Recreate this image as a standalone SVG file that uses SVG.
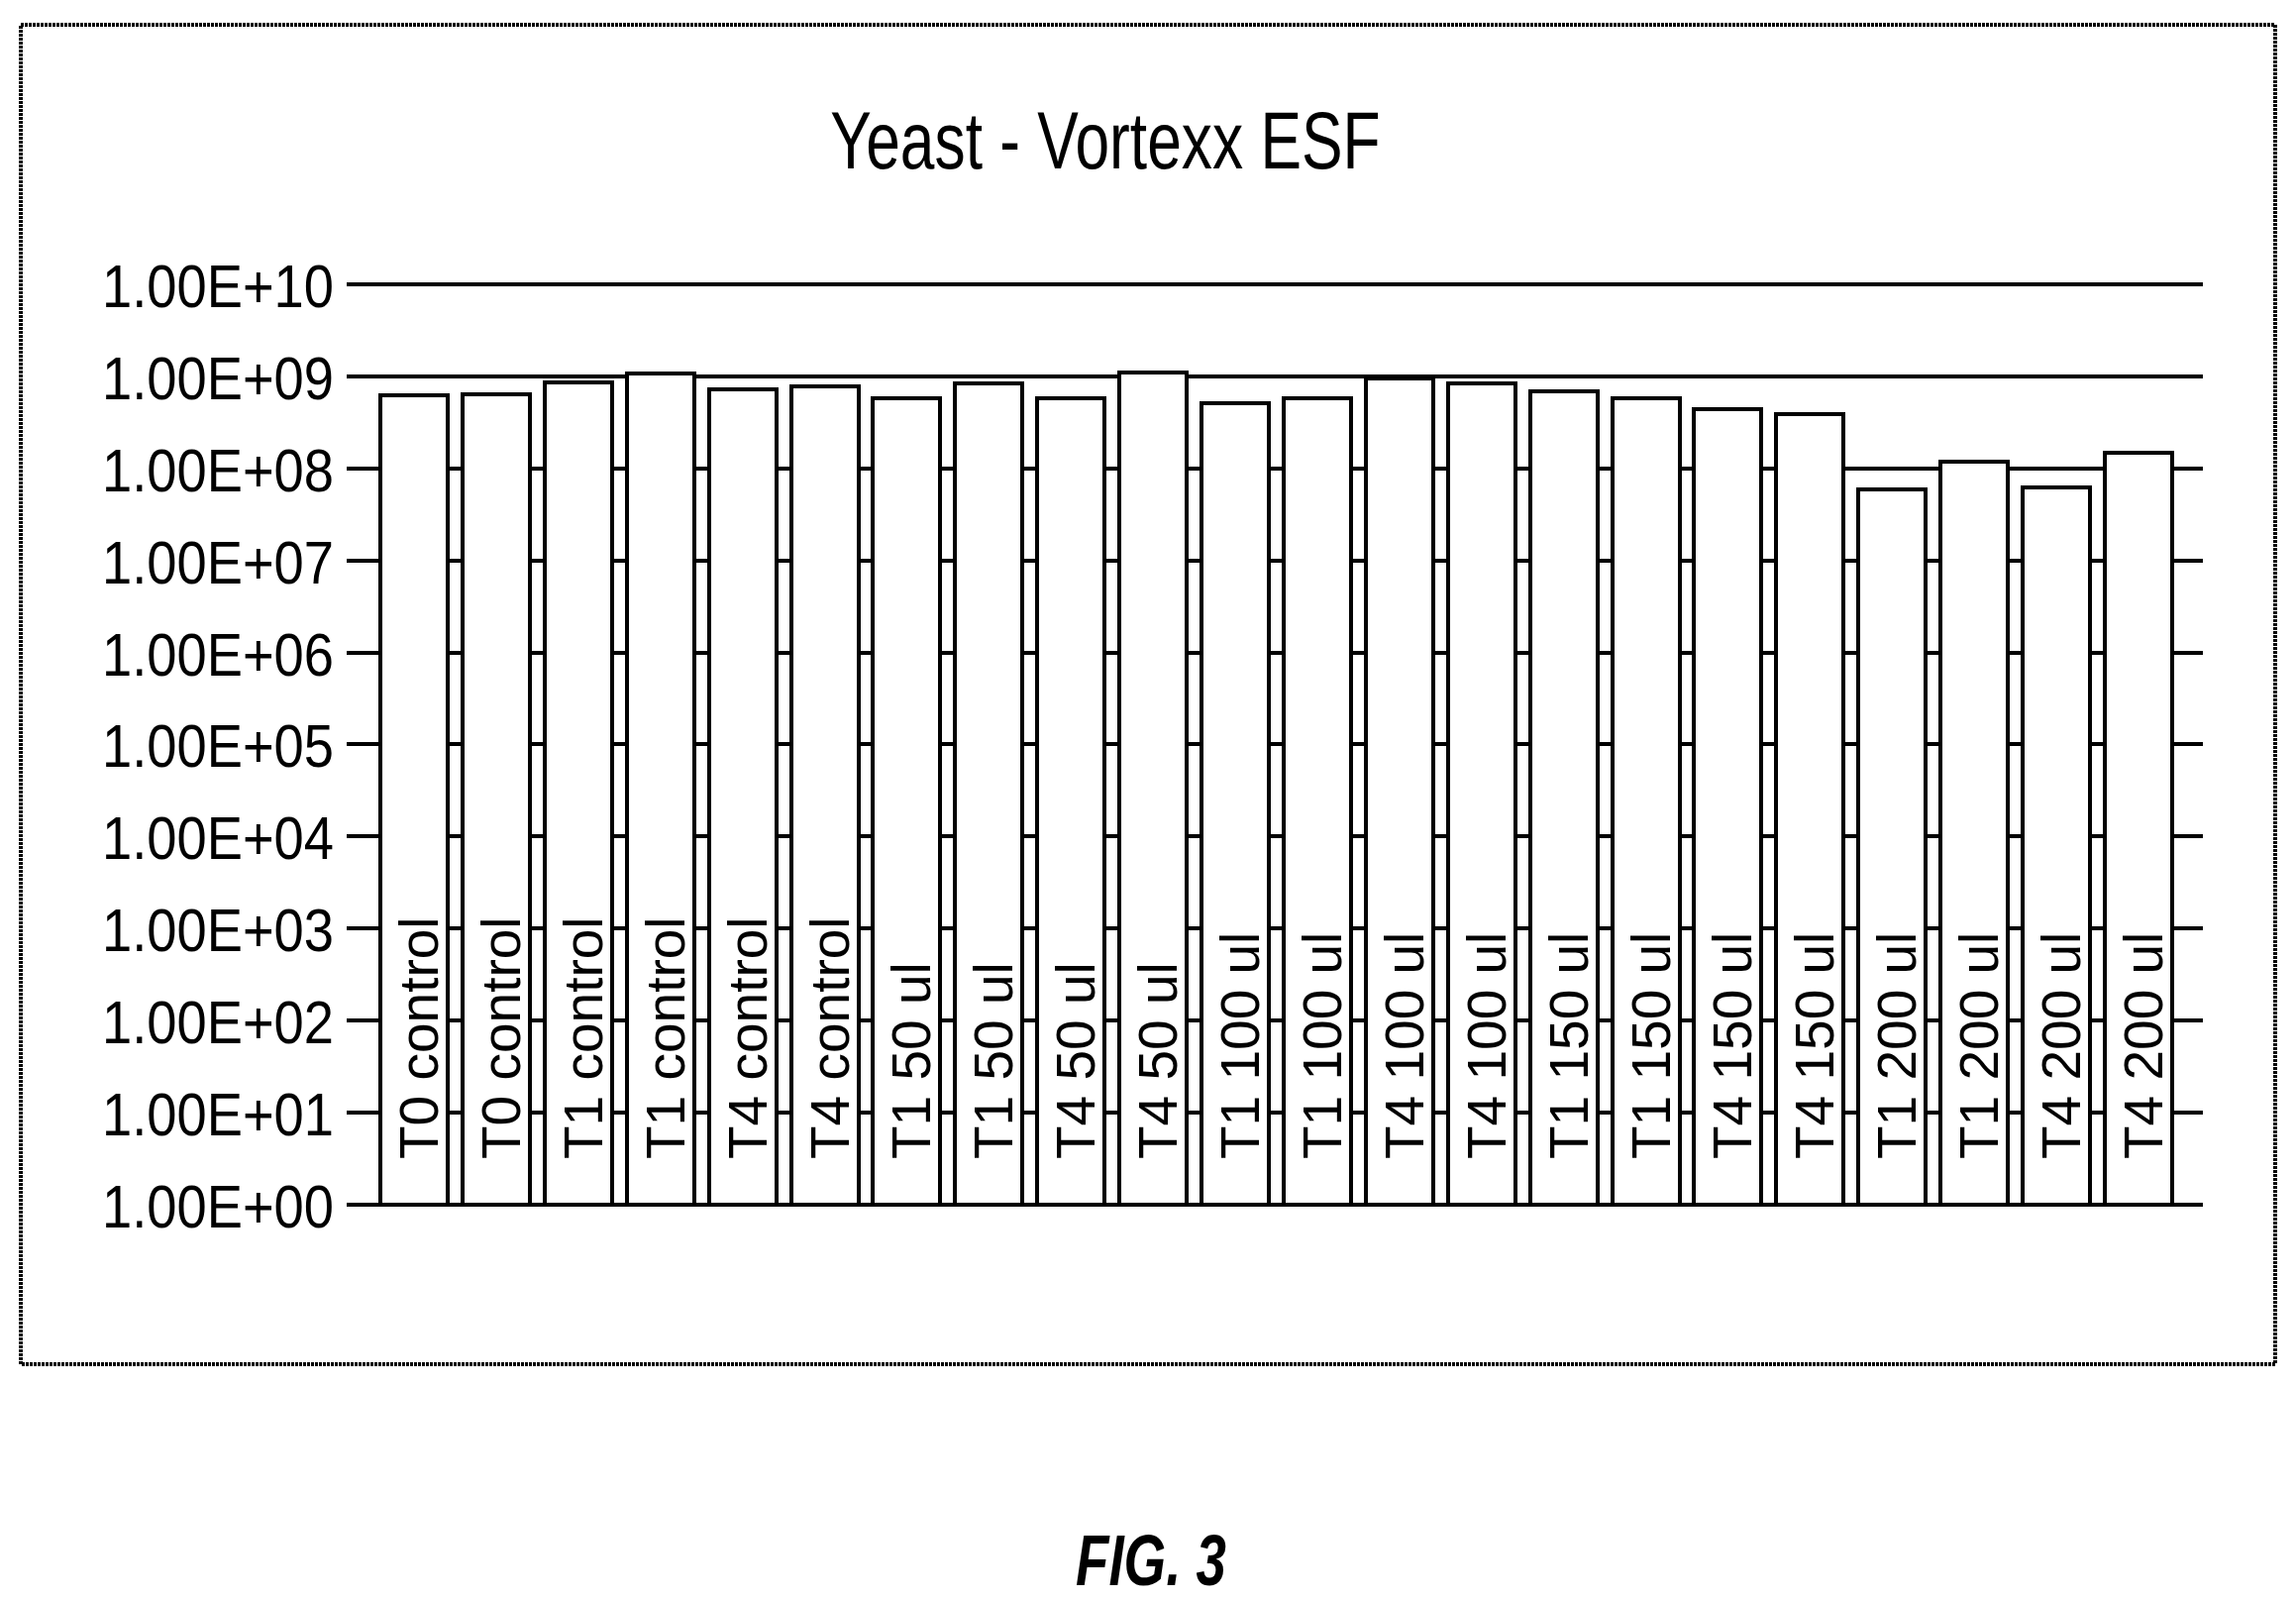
<svg xmlns="http://www.w3.org/2000/svg" width="2318" height="1615" viewBox="0 0 2318 1615">
<style>
.t{font-family:"Liberation Sans",Arial,sans-serif;fill:#000}
.g{stroke:#000;stroke-width:4;fill:none}
.b{stroke:#000;stroke-width:4;fill:#fff}
.yl{font-size:61px;text-anchor:end}
.bl{font-size:55px}
</style>
<rect width="2318" height="1615" fill="#fff"/>
<rect x="21" y="25" width="2276" height="1352" class="g" stroke-dasharray="3 1"/>
<text class="t" font-size="82" text-anchor="middle" transform="translate(1116,170) scale(0.76,1)">Yeast - Vortexx ESF</text>
<g id="grid">
<line x1="350" x2="2224" y1="287" y2="287" class="g"/>
<line x1="350" x2="2224" y1="380" y2="380" class="g"/>
<line x1="350" x2="2224" y1="473" y2="473" class="g"/>
<line x1="350" x2="2224" y1="566" y2="566" class="g"/>
<line x1="350" x2="2224" y1="659" y2="659" class="g"/>
<line x1="350" x2="2224" y1="751" y2="751" class="g"/>
<line x1="350" x2="2224" y1="844" y2="844" class="g"/>
<line x1="350" x2="2224" y1="937" y2="937" class="g"/>
<line x1="350" x2="2224" y1="1030" y2="1030" class="g"/>
<line x1="350" x2="2224" y1="1123" y2="1123" class="g"/>
<line x1="350" x2="2224" y1="1216" y2="1216" class="g"/>
</g>
<g id="yaxis" class="t yl">
<text transform="translate(337,310) scale(0.89,1)">1.00E+10</text>
<text transform="translate(337,403) scale(0.89,1)">1.00E+09</text>
<text transform="translate(337,496) scale(0.89,1)">1.00E+08</text>
<text transform="translate(337,589) scale(0.89,1)">1.00E+07</text>
<text transform="translate(337,682) scale(0.89,1)">1.00E+06</text>
<text transform="translate(337,774) scale(0.89,1)">1.00E+05</text>
<text transform="translate(337,867) scale(0.89,1)">1.00E+04</text>
<text transform="translate(337,960) scale(0.89,1)">1.00E+03</text>
<text transform="translate(337,1053) scale(0.89,1)">1.00E+02</text>
<text transform="translate(337,1146) scale(0.89,1)">1.00E+01</text>
<text transform="translate(337,1239) scale(0.89,1)">1.00E+00</text>
</g>
<g id="bars">
<rect class="b" x="384" y="399" width="68" height="817"/>
<rect class="b" x="467" y="398" width="68" height="818"/>
<rect class="b" x="550" y="386" width="68" height="830"/>
<rect class="b" x="633" y="377" width="68" height="839"/>
<rect class="b" x="716" y="393" width="68" height="823"/>
<rect class="b" x="799" y="390" width="68" height="826"/>
<rect class="b" x="881" y="402" width="68" height="814"/>
<rect class="b" x="964" y="387" width="68" height="829"/>
<rect class="b" x="1047" y="402" width="68" height="814"/>
<rect class="b" x="1130" y="376" width="68" height="840"/>
<rect class="b" x="1213" y="407" width="68" height="809"/>
<rect class="b" x="1296" y="402" width="68" height="814"/>
<rect class="b" x="1379" y="382" width="68" height="834"/>
<rect class="b" x="1462" y="387" width="68" height="829"/>
<rect class="b" x="1545" y="395" width="68" height="821"/>
<rect class="b" x="1628" y="402" width="68" height="814"/>
<rect class="b" x="1710" y="413" width="68" height="803"/>
<rect class="b" x="1793" y="418" width="68" height="798"/>
<rect class="b" x="1876" y="494" width="68" height="722"/>
<rect class="b" x="1959" y="466" width="68" height="750"/>
<rect class="b" x="2042" y="492" width="68" height="724"/>
<rect class="b" x="2125" y="457" width="68" height="759"/>
</g>
<g id="labels" class="t bl">
<text transform="translate(442,1170) rotate(-90)">T0 control</text>
<text transform="translate(525,1170) rotate(-90)">T0 control</text>
<text transform="translate(608,1170) rotate(-90)">T1 control</text>
<text transform="translate(691,1170) rotate(-90)">T1 control</text>
<text transform="translate(774,1170) rotate(-90)">T4 control</text>
<text transform="translate(857,1170) rotate(-90)">T4 control</text>
<text transform="translate(939,1170) rotate(-90)">T1 50 ul</text>
<text transform="translate(1022,1170) rotate(-90)">T1 50 ul</text>
<text transform="translate(1105,1170) rotate(-90)">T4 50 ul</text>
<text transform="translate(1188,1170) rotate(-90)">T4 50 ul</text>
<text transform="translate(1271,1170) rotate(-90)">T1 100 ul</text>
<text transform="translate(1354,1170) rotate(-90)">T1 100 ul</text>
<text transform="translate(1437,1170) rotate(-90)">T4 100 ul</text>
<text transform="translate(1520,1170) rotate(-90)">T4 100 ul</text>
<text transform="translate(1603,1170) rotate(-90)">T1 150 ul</text>
<text transform="translate(1686,1170) rotate(-90)">T1 150 ul</text>
<text transform="translate(1768,1170) rotate(-90)">T4 150 ul</text>
<text transform="translate(1851,1170) rotate(-90)">T4 150 ul</text>
<text transform="translate(1934,1170) rotate(-90)">T1 200 ul</text>
<text transform="translate(2017,1170) rotate(-90)">T1 200 ul</text>
<text transform="translate(2100,1170) rotate(-90)">T4 200 ul</text>
<text transform="translate(2183,1170) rotate(-90)">T4 200 ul</text>
</g>
<text class="t" font-size="72" font-weight="bold" font-style="italic" text-anchor="middle" transform="translate(1162,1600) scale(0.76,1)">FIG. 3</text>
</svg>
